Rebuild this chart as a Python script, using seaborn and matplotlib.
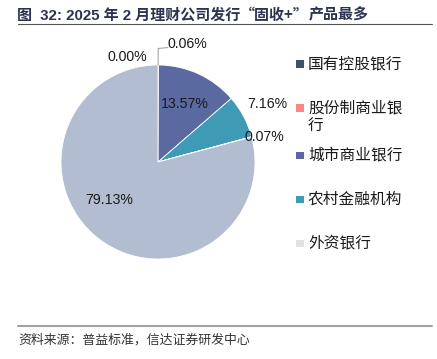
import numpy as np
import matplotlib
matplotlib.use('Agg')
import matplotlib.pyplot as plt
import seaborn as sns
from matplotlib.patches import Rectangle
from matplotlib.lines import Line2D

# ---- data ----
categories = ['国有控股银行', '股份制商业银行', '城市商业银行', '农村金融机构', '外资银行', '其他']
shares = [0.06, 0.00, 13.57, 7.16, 0.07, 79.13]
legend_labels = ['国有控股银行', '股份制商业银\n行', '城市商业银行', '农村金融机构', '外资银行']
title_parts = ['图  32: 2025 年 2 月理财公司发行', '“固收+”', '产品最多']
source = '资料来源：普益标准，信达证券研发中心'

# ---- style ----
colors = ['#434E6E', '#FF8585', '#5A6AA0', '#3F9AB6', '#E1E1E1', '#B3BDD1']
sns.set_theme(style='white')
plt.rcParams['font.family'] = ['Liberation Sans', 'Noto Sans CJK SC', 'DejaVu Sans']

W, H = 437, 359
fig = plt.figure(figsize=(W / 100, H / 100), dpi=100)
fig.patch.set_facecolor('white')

def fx(px):
    return px / W

def fy(py):
    return 1 - py / H

cx, cy, R = 158, 162, 97
ax = fig.add_axes([fx(cx - R), fy(cy + R), 2 * R / W, 2 * R / H])
wedges, _ = ax.pie(shares, colors=colors, startangle=90, counterclock=False,
                   wedgeprops=dict(edgecolor='white', linewidth=0.6))
ax.set_xlim(-1, 1)
ax.set_ylim(-1, 1)
ax.axis('off')

# label placement: radius factor and nudges per slice
label_r = [1.22, 1.08, 0.66, 1.275, 1.14, 0.64]
label_dx = [0.10, -0.32, 0.0, 0.0, 0.0, -0.115]
label_dy = [0.0, 0.0, 0.0, 0.0, -0.035, 0.117]
label_ha = ['left', 'center', 'center', 'center', 'center', 'center']
for i, (w, v) in enumerate(zip(wedges, shares)):
    mid = np.deg2rad((w.theta1 + w.theta2) / 2)
    x = label_r[i] * np.cos(mid) + label_dx[i]
    y = label_r[i] * np.sin(mid) + label_dy[i]
    ax.text(x, y, f'{v:.2f}%', ha=label_ha[i], va='center', fontsize=10.2,
            color='#1A1A1A', clip_on=False)
    if i == 0:
        x0 = np.cos(mid)
        ax.plot([x0, x0, x0 + 0.1], [1.0, 1.17, 1.18], color='#A6A6A6',
                lw=0.8, clip_on=False)

# legend (manual, Excel-like)
ly = 64
for lab, col in zip(legend_labels, colors):
    fig.add_artist(Rectangle((fx(296), fy(ly + 3.5)), 8 / W, 7 / H,
                             transform=fig.transFigure, color=col, lw=0))
    for j, line in enumerate(lab.split('\n')):
        fig.text(fx(308), fy(ly + 18 * j), line, fontsize=11.3, va='center',
                 ha='left', color='#1A1A1A',
                 family=['Noto Sans CJK SC', 'DejaVu Sans'])
    ly += 44 + (3 if '\n' in lab else 0)

# title (segments placed one after another; quotes in full-width CJK style)
renderer = fig.canvas.get_renderer()
tx = 17
fams = [['Liberation Sans', 'Noto Sans CJK SC'], ['Noto Sans CJK SC'],
        ['Liberation Sans', 'Noto Sans CJK SC']]
for part, fam in zip(title_parts, fams):
    t = fig.text(fx(tx), fy(15), part, fontsize=10.8, fontweight='bold',
                 color='#2B3350', va='center', ha='left', family=fam)
    bb = t.get_window_extent(renderer=renderer)
    tx += bb.width

fig.add_artist(Line2D([fx(18), fx(432)], [fy(24), fy(24)], color='#555555',
                      lw=0.8, transform=fig.transFigure))
fig.add_artist(Line2D([fx(18), fx(432)], [fy(326), fy(326)], color='#A0A0A0',
                      lw=1.5, transform=fig.transFigure))
fig.text(fx(18), fy(340), source, fontsize=9.3, color='#333333',
         va='center', ha='left', family=['Noto Sans CJK SC', 'DejaVu Sans'])

fig.savefig('out.png', dpi=100, facecolor='white')
